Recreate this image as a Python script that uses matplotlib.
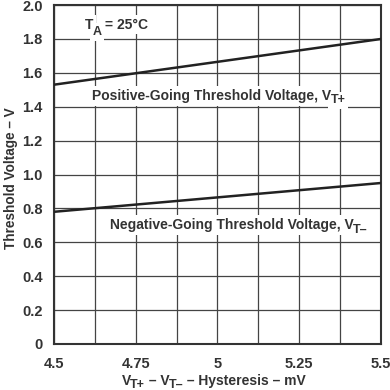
import matplotlib
matplotlib.use('Agg')

import matplotlib.pyplot as plt
import matplotlib.transforms as mtransforms
import numpy as np

# hysteresis (mV) and threshold voltages (V)
hysteresis = [4.5, 5.5]
vt_pos = [1.53, 1.80]
vt_neg = [0.78, 0.95]

x_ticks = [4.5, 4.75, 5, 5.25, 5.5]
x_tick_labels = ['4.5', '4.75', '5', '5.25', '5.5']
y_ticks = [0, 0.2, 0.4, 0.6, 0.8, 1.0, 1.2, 1.4, 1.6, 1.8, 2.0]
y_tick_labels = ['0', '0.2', '0.4', '0.6', '0.8', '1.0', '1.2', '1.4', '1.6', '1.8', '2.0']

plt.rcParams['font.family'] = ['Liberation Sans', 'DejaVu Sans']
plt.rcParams['font.weight'] = 'bold'

dark = '#333333'
MAIN = 10
SUB = 9


def rich_text(fig, x, y, pieces, transform, drop=2.5, box=False):
    """Draw text pieces side by side; pieces flagged True are subscripts."""
    renderer = fig.canvas.get_renderer()
    dx = 0.0
    px = fig.dpi / 72.0
    for txt, sub in pieces:
        dy = -drop * px if sub else 0.0
        if sub:
            dx -= 1.0
        tr = mtransforms.offset_copy(transform, fig=fig, x=dx, y=dy, units='dots')
        size = SUB if sub else MAIN
        if box:
            # white backing drawn below every piece so boxes never hide glyphs
            fig.text(x, y, txt, transform=tr, fontsize=size, fontweight='bold',
                     color='none', ha='left', va='baseline', zorder=3.5,
                     bbox=dict(facecolor='white', edgecolor='none', pad=2))
        t = fig.text(x, y, txt, transform=tr, fontsize=size, fontweight='bold',
                     color=dark, ha='left', va='baseline', zorder=4)
        dx += t.get_window_extent(renderer).width


fig = plt.figure(figsize=(3.9, 3.9), dpi=100)
ax = fig.add_axes([0.138, 0.118, 0.839, 0.869])

ax.plot(hysteresis, vt_pos, color='#222222', linewidth=1.8, solid_capstyle='butt', zorder=3)
ax.plot(hysteresis, vt_neg, color='#222222', linewidth=1.8, solid_capstyle='butt', zorder=3)

ax.set_xlim(4.5, 5.5)
ax.set_ylim(0, 2.0)
ax.set_xticks(x_ticks)
ax.set_xticklabels(x_tick_labels)
ax.set_yticks(y_ticks)
ax.set_yticklabels(y_tick_labels)
ax.set_xticks(np.arange(4.5, 5.51, 0.125), minor=True)
ax.tick_params(which='both', length=0, labelsize=10.5, colors=dark)
ax.tick_params(axis='x', pad=9.5)
ax.tick_params(axis='y', pad=8)
ax.grid(True, which='both', color='#444444', linewidth=0.9, zorder=1)

for s in ax.spines.values():
    s.set_color(dark)
    s.set_linewidth(1.5)

ax.set_ylabel('Threshold Voltage \u2013 V', fontsize=9.8, fontweight='bold',
              color=dark)
ax.yaxis.set_label_coords(-0.11, 0.49)

# x label with full-size subscripts
rich_text(fig, 0.312, 0.013,
          [('V', False), ('T+', True), (' \u2013 V', False), ('T\u2013', True),
           (' \u2013 Hysteresis \u2013 mV', False)],
          fig.transFigure)

# annotations inside the plot
rich_text(fig, 4.595, 1.861, [('T', False), ('A', True), (' = 25\u00b0C', False)],
          ax.transData, drop=4.5, box=True)
rich_text(fig, 4.618, 1.44,
          [('Positive-Going Threshold Voltage, V', False), ('T+', True)],
          ax.transData, box=True)
rich_text(fig, 4.671, 0.677,
          [('Negative-Going Threshold Voltage, V', False), ('T\u2013', True)],
          ax.transData, box=True)

fig.savefig('out.png', dpi=100, facecolor='white')
plt.close(fig)
